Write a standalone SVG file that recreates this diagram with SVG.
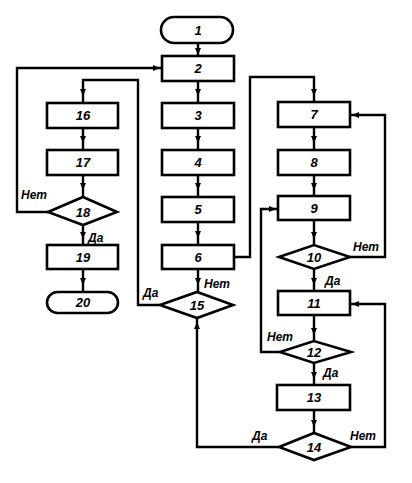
<svg xmlns="http://www.w3.org/2000/svg" width="412" height="483" viewBox="0 0 412 483">
<style>
.s{fill:#fff;stroke:#000;stroke-width:2.6}
.c{fill:none;stroke:#000;stroke-width:2.4}
.t{font-family:"Liberation Sans",Arial,sans-serif;font-style:italic;font-weight:bold;font-size:13px;text-anchor:middle;fill:#000}
.l{font-family:"Liberation Sans",Arial,sans-serif;font-style:italic;font-weight:bold;font-size:12px;fill:#000}
</style>
<defs>
<path id="ah" d="M0 0 L-3 -7 L3 -7 Z" fill="#000"/>
</defs>
<rect width="412" height="483" fill="#fff"/>
<g id="connectors">
<path class="c" d="M198 43 V56 M198 81 V103 M198 128 V150 M198 175 V197 M198 222 V245 M198 269 V292"/>
<path class="c" d="M83 128 V150 M83 175 V197 M83 225 V245 M83 269 V292"/>
<path class="c" d="M314 127 V150 M314 175 V196 M314 220 V245 M314 269 V291 M314 315 V341 M314 363 V385 M314 410 V433"/>
<path class="c" d="M160 305 H138 V80 H83 V103"/>
<path class="c" d="M48 212 H17 V68 H162"/>
<path class="c" d="M234 257 H250 V77 H314 V102"/>
<path class="c" d="M350 257 H385 V115 H350"/>
<path class="c" d="M280 352 H261 V209 H278"/>
<path class="c" d="M351 447 H385 V304 H350"/>
<path class="c" d="M279 447 H197 V318"/>
<use href="#ah" transform="translate(198,55)"/>
<use href="#ah" transform="translate(198,96)"/>
<use href="#ah" transform="translate(198,143)"/>
<use href="#ah" transform="translate(198,190)"/>
<use href="#ah" transform="translate(198,238)"/>
<use href="#ah" transform="translate(198,285)"/>
<use href="#ah" transform="translate(83,96)"/>
<use href="#ah" transform="translate(83,143)"/>
<use href="#ah" transform="translate(83,190)"/>
<use href="#ah" transform="translate(83,239)"/>
<use href="#ah" transform="translate(83,285)"/>
<use href="#ah" transform="translate(160,68) rotate(-90)"/>
<use href="#ah" transform="translate(314,96)"/>
<use href="#ah" transform="translate(314,143)"/>
<use href="#ah" transform="translate(314,190)"/>
<use href="#ah" transform="translate(314,239)"/>
<use href="#ah" transform="translate(314,285)"/>
<use href="#ah" transform="translate(314,335)"/>
<use href="#ah" transform="translate(314,379)"/>
<use href="#ah" transform="translate(314,427)"/>
<use href="#ah" transform="translate(352,115) rotate(90)"/>
<use href="#ah" transform="translate(276,209) rotate(-90)"/>
<use href="#ah" transform="translate(352,304) rotate(90)"/>
<use href="#ah" transform="translate(197,322) rotate(180)"/>
</g>
<g id="n1"><rect class="s" x="161" y="17" width="72" height="26" rx="13"/><text class="t" x="198" y="35">1</text></g>
<g id="n2"><rect class="s" x="162" y="56" width="72" height="25"/><text class="t" x="198" y="73">2</text></g>
<g id="n3"><rect class="s" x="162" y="103" width="72" height="25"/><text class="t" x="198" y="120">3</text></g>
<g id="n4"><rect class="s" x="162" y="150" width="72" height="25"/><text class="t" x="198" y="167">4</text></g>
<g id="n5"><rect class="s" x="162" y="197" width="72" height="25"/><text class="t" x="198" y="214">5</text></g>
<g id="n6"><rect class="s" x="162" y="245" width="72" height="24"/><text class="t" x="198" y="262">6</text></g>
<g id="n15"><polygon class="s" points="160,305 197,292 233,305 197,318"/><text class="t" x="197" y="310">15</text></g>
<g id="n16"><rect class="s" x="47" y="103" width="71" height="25"/><text class="t" x="83" y="120">16</text></g>
<g id="n17"><rect class="s" x="47" y="150" width="71" height="25"/><text class="t" x="83" y="167">17</text></g>
<g id="n18"><polygon class="s" points="48,212 83,197 117,212 83,225"/><text class="t" x="83" y="217">18</text></g>
<g id="n19"><rect class="s" x="47" y="245" width="71" height="24"/><text class="t" x="83" y="262">19</text></g>
<g id="n20"><rect class="s" x="47" y="292" width="71" height="21" rx="10.5"/><text class="t" x="83" y="307">20</text></g>
<g id="n7"><rect class="s" x="278" y="102" width="72" height="25"/><text class="t" x="314" y="119">7</text></g>
<g id="n8"><rect class="s" x="278" y="150" width="72" height="25"/><text class="t" x="314" y="167">8</text></g>
<g id="n9"><rect class="s" x="278" y="196" width="72" height="24"/><text class="t" x="314" y="213">9</text></g>
<g id="n10"><polygon class="s" points="279,257 314,245 350,257 314,269"/><text class="t" x="314" y="262">10</text></g>
<g id="n11"><rect class="s" x="278" y="291" width="72" height="24"/><text class="t" x="314" y="308">11</text></g>
<g id="n12"><polygon class="s" points="280,352 314,341 351,352 314,363"/><text class="t" x="314" y="357">12</text></g>
<g id="n13"><rect class="s" x="277" y="385" width="73" height="25"/><text class="t" x="314" y="402">13</text></g>
<g id="n14"><polygon class="s" points="279,447 314,433 351,447 314,460"/><text class="t" x="314" y="452">14</text></g>
<g id="labels">
<text class="l" x="204" y="288">Нет</text>
<text class="l" x="143" y="297">Да</text>
<text class="l" x="21" y="199">Нет</text>
<text class="l" x="88" y="242">Да</text>
<text class="l" x="353" y="251">Нет</text>
<text class="l" x="325" y="285">Да</text>
<text class="l" x="267" y="341">Нет</text>
<text class="l" x="323" y="377">Да</text>
<text class="l" x="252" y="440">Да</text>
<text class="l" x="350" y="440">Нет</text>
</g>
</svg>
